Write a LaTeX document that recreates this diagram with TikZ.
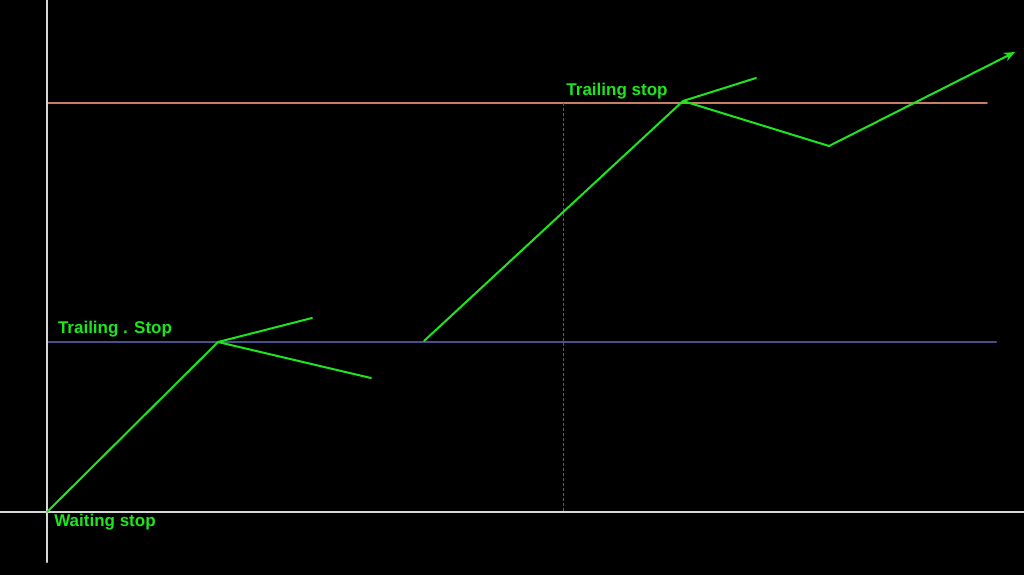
\documentclass[tikz,border=0pt]{standalone}
\usepackage{fontspec}
\setmainfont{Liberation Sans}
\usetikzlibrary{arrows.meta}
\definecolor{pathgreen}{RGB}{30,230,30}
\definecolor{toplevel}{RGB}{200,125,105}
\definecolor{stoplevel}{RGB}{75,78,140}
\definecolor{axisgray}{RGB}{215,215,215}
\definecolor{gridgray}{RGB}{95,95,95}
\begin{document}
\begin{tikzpicture}[x=1pt,y=-1pt,>={Stealth[length=11pt,width=9pt]}, font=\bfseries\fontsize{17}{19}\selectfont, line join=round, line cap=round]
		\def\ox{47} \def\oy{512} % goc toa do
		\def\ytop{103} \def\ystop{342}
		\useasboundingbox (0,0) rectangle (1024,574);
		\fill[black] (-5,-5) rectangle (1029,579);
		% cac muc gia
		\draw[color=toplevel,line width=1.6pt] (\ox,\ytop)--(987,\ytop);
		\draw[color=stoplevel,line width=2pt] (\ox,\ystop)--(996,\ystop);
		\draw[color=gridgray,densely dashed,line cap=butt,line width=1pt] (563,\ytop)--(563,\oy);
		% truc
		\draw[color=axisgray,line width=2pt] (0,\oy)--(1024,\oy);
		\draw[color=axisgray,line width=2pt] (\ox,0)--(\ox,562);
		% cac diem
		\coordinate (O) at (\ox,\oy);
		\coordinate (A) at (218,342);
		\coordinate (A1) at (312,318);
		\coordinate (A2) at (371,378);
		\coordinate (B) at (424,341);
		\coordinate (C) at (683,101);
		\coordinate (C1) at (756,78);
		\coordinate (D) at (829,146);
		\coordinate (E) at (1015,52);
		\begin{scope}[color=pathgreen,line width=2pt]
			\draw (O)--(A) (A)--(A1) (A)--(A2);
			\draw (B)--(C) (C)--(C1) (C)--(D);
			\draw[->] (D)--(E);
		\end{scope}
		\node[color=pathgreen] (lbTop) at (617,91) {Trailing stop};
		\node[color=pathgreen] (lbMid) at (115,329) {Trailing . Stop};
		\node[color=pathgreen] (lbBot) at (105,522) {Waiting stop};
\end{tikzpicture}
\end{document}
